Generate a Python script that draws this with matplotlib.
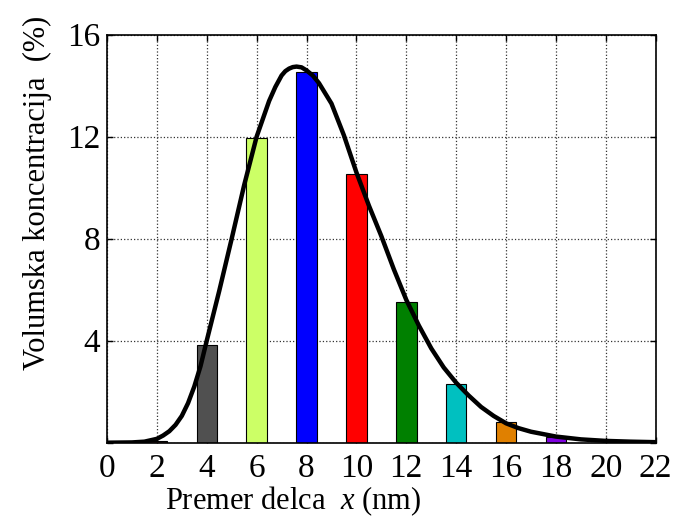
import matplotlib
matplotlib.use("Agg")
import matplotlib.pyplot as plt
import numpy as np

plt.rcParams['font.family'] = ['Liberation Serif', 'DejaVu Serif']
plt.rcParams['mathtext.fontset'] = 'custom'
plt.rcParams['mathtext.rm'] = 'Liberation Serif'
plt.rcParams['mathtext.it'] = 'Liberation Serif:italic'

# bar data (particle diameter classes)
bar_x = [2, 4, 6, 8, 10, 12, 14, 16, 18]
bar_h = [0.08, 3.82, 11.96, 14.54, 10.54, 5.5, 2.3, 0.81, 0.21]
bar_colors = ['#5a2a2a', '#505050', '#ccff66', '#0000ff', '#ff0000',
              '#008000', '#00c0c0', '#e08000', '#7f00e0']

# fitted curve
curve_x = [0, 1, 1.5, 2, 2.25, 2.5, 2.75, 3, 3.25, 3.5, 3.75, 4, 4.5, 5, 5.5,
           6, 6.5, 6.75, 7, 7.15, 7.3, 7.45, 7.6, 7.8, 8, 8.25, 8.5, 9, 9.5,
           10, 10.5, 11, 11.5, 12, 12.5, 13, 13.5, 14, 14.5, 15, 15.5, 16,
           16.5, 17, 18, 19, 20, 21, 22]
curve_y = [0, 0.01, 0.04, 0.15, 0.28, 0.45, 0.7, 1.05, 1.55, 2.2, 3.0, 4.0,
           5.95, 8.0, 10.1, 12.0, 13.4, 13.95, 14.4, 14.57, 14.67, 14.73,
           14.75, 14.72, 14.6, 14.4, 14.1, 13.3, 12.05, 10.6, 9.3, 8.1, 6.8,
           5.6, 4.6, 3.7, 2.95, 2.35, 1.85, 1.4, 1.05, 0.76, 0.57, 0.43, 0.24,
           0.13, 0.07, 0.04, 0.02]

xticks = list(range(0, 23, 2))
yticks = [0, 4, 8, 12, 16]
ytick_labels = ['', '4', '8', '12', '16']

fig = plt.figure(figsize=(6.77, 5.18), dpi=100)
ax = fig.add_axes([0.158, 0.1454, 0.8106, 0.7876])

ax.bar(bar_x, bar_h, width=0.82, color=bar_colors, edgecolor='black',
       linewidth=0.8, zorder=2)
ax.plot(curve_x, curve_y, color='black', lw=3.2, solid_joinstyle='round',
        solid_capstyle='round', zorder=3)

ax.set_xlim(0, 22)
ax.set_ylim(0, 16)
ax.set_xticks(xticks)
ax.set_yticks(yticks)
ax.set_yticklabels(ytick_labels)
ax.tick_params(direction='in', length=4, width=1, labelsize=24,
               top=True, right=True)
ax.tick_params(axis='x', pad=8)
ax.tick_params(axis='y', pad=5)
ax.grid(True, linestyle=':', color='#333333', linewidth=0.9, zorder=0)
ax.set_axisbelow(True)
for s in ax.spines.values():
    s.set_linewidth(1.2)

fig.text(293 / 677, 1 - 501 / 518, 'Premer delca  $x$ (nm)', fontsize=22,
         ha='center', va='center')
fig.text(37 / 677, 1 - 193 / 518, 'Volumska koncentracija  (%)', fontsize=22,
         ha='center', va='center', rotation=90)

fig.savefig('out.png', dpi=100)
